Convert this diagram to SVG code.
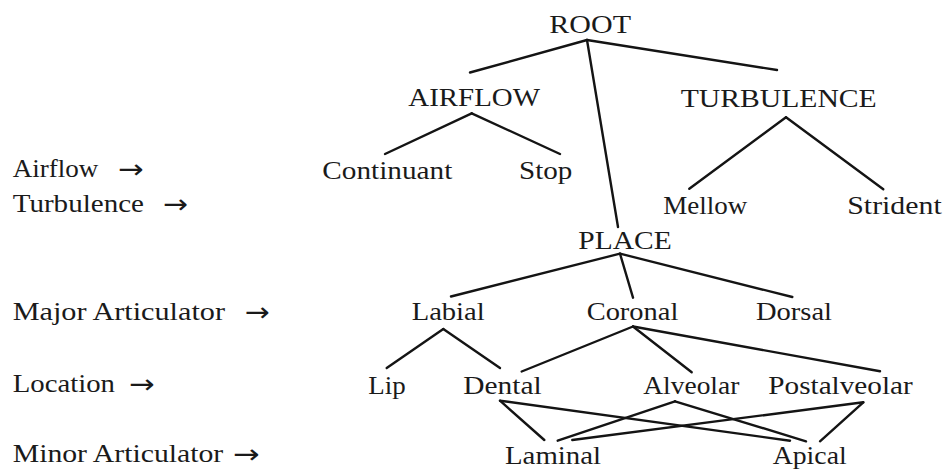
<svg xmlns="http://www.w3.org/2000/svg" width="944" height="469" viewBox="0 0 944 469">
<style>
text{font-family:"Liberation Serif","DejaVu Serif",serif;font-size:26px;fill:#1a1a1a}
text.ar{font-family:"DejaVu Sans","DejaVu Serif",sans-serif;font-size:26px}
.e line{stroke:#141414;stroke-width:2.4;stroke-linecap:round}
</style>
<rect width="944" height="469" fill="#ffffff"/>
<g id="levels">
<g id="lvl-airflow"><text x="12.7" y="177" textLength="85.6" lengthAdjust="spacingAndGlyphs">Airflow</text><text class="ar" x="118.3" y="178" textLength="25.7" lengthAdjust="spacingAndGlyphs">→</text></g>
<g id="lvl-turbulence"><text x="12.7" y="212" textLength="131.3" lengthAdjust="spacingAndGlyphs">Turbulence</text><text class="ar" x="163.3" y="213" textLength="25" lengthAdjust="spacingAndGlyphs">→</text></g>
<g id="lvl-major"><text x="12.7" y="320" textLength="212.3" lengthAdjust="spacingAndGlyphs">Major Articulator</text><text class="ar" x="245" y="321" textLength="25" lengthAdjust="spacingAndGlyphs">→</text></g>
<g id="lvl-location"><text x="12.7" y="392.3" textLength="102.3" lengthAdjust="spacingAndGlyphs">Location</text><text class="ar" x="129.3" y="393.3" textLength="25.7" lengthAdjust="spacingAndGlyphs">→</text></g>
<g id="lvl-minor"><text x="12.7" y="462.3" textLength="210.6" lengthAdjust="spacingAndGlyphs">Minor Articulator</text><text class="ar" x="233.3" y="463.3" textLength="26.7" lengthAdjust="spacingAndGlyphs">→</text></g>
</g>
<g id="connectors" class="e">
<line x1="587" y1="40" x2="470" y2="72.5"/>
<line x1="587" y1="40" x2="777" y2="70"/>
<line x1="587" y1="40" x2="618" y2="227"/>
<line x1="471.7" y1="113.3" x2="385" y2="154"/>
<line x1="471.7" y1="113.3" x2="560" y2="154"/>
<line x1="786" y1="117.3" x2="689.3" y2="188.7"/>
<line x1="786" y1="117.3" x2="883.3" y2="189.3"/>
<line x1="620" y1="253.7" x2="451" y2="296.5"/>
<line x1="620" y1="253.7" x2="633" y2="297.7"/>
<line x1="620" y1="253.7" x2="792.3" y2="297"/>
<line x1="443.3" y1="329" x2="386.7" y2="368"/>
<line x1="443.3" y1="329" x2="500" y2="368"/>
<line x1="633" y1="326.5" x2="521.7" y2="371.5"/>
<line x1="633" y1="326.5" x2="691.7" y2="372.3"/>
<line x1="633" y1="326.5" x2="880" y2="371.3"/>
<line x1="500" y1="400.7" x2="544.3" y2="440"/>
<line x1="500" y1="400.7" x2="790" y2="440.7"/>
<line x1="675" y1="401.3" x2="557.7" y2="440.7"/>
<line x1="675" y1="401.3" x2="806" y2="441.3"/>
<line x1="863.3" y1="402.3" x2="572.3" y2="440"/>
<line x1="863.3" y1="402.3" x2="820" y2="441.3"/>
</g>
<g id="root"><text x="549.3" y="32.5" textLength="81.7" lengthAdjust="spacingAndGlyphs">ROOT</text></g>
<g id="airflow"><text x="408.3" y="106" textLength="131.7" lengthAdjust="spacingAndGlyphs">AIRFLOW</text></g>
<g id="turbulence"><text x="680.7" y="106.5" textLength="196" lengthAdjust="spacingAndGlyphs">TURBULENCE</text></g>
<g id="continuant"><text x="322.3" y="178.7" textLength="130" lengthAdjust="spacingAndGlyphs">Continuant</text></g>
<g id="stop"><text x="519" y="178.7" textLength="53.3" lengthAdjust="spacingAndGlyphs">Stop</text></g>
<g id="mellow"><text x="663.3" y="214.3" textLength="84" lengthAdjust="spacingAndGlyphs">Mellow</text></g>
<g id="strident"><text x="847.3" y="214.3" textLength="94.4" lengthAdjust="spacingAndGlyphs">Strident</text></g>
<g id="place"><text x="578.3" y="248.7" textLength="93.4" lengthAdjust="spacingAndGlyphs">PLACE</text></g>
<g id="labial"><text x="411.7" y="320" textLength="73" lengthAdjust="spacingAndGlyphs">Labial</text></g>
<g id="coronal"><text x="586.7" y="320" textLength="91.6" lengthAdjust="spacingAndGlyphs">Coronal</text></g>
<g id="dorsal"><text x="756" y="320" textLength="76" lengthAdjust="spacingAndGlyphs">Dorsal</text></g>
<g id="lip"><text x="368.3" y="394" textLength="37.4" lengthAdjust="spacingAndGlyphs">Lip</text></g>
<g id="dental"><text x="463.3" y="394" textLength="78.4" lengthAdjust="spacingAndGlyphs">Dental</text></g>
<g id="alveolar"><text x="643.3" y="394" textLength="96" lengthAdjust="spacingAndGlyphs">Alveolar</text></g>
<g id="postalveolar"><text x="768.3" y="394" textLength="144.4" lengthAdjust="spacingAndGlyphs">Postalveolar</text></g>
<g id="laminal"><text x="505" y="464" textLength="96" lengthAdjust="spacingAndGlyphs">Laminal</text></g>
<g id="apical"><text x="772.7" y="464" textLength="74" lengthAdjust="spacingAndGlyphs">Apical</text></g>
</svg>
